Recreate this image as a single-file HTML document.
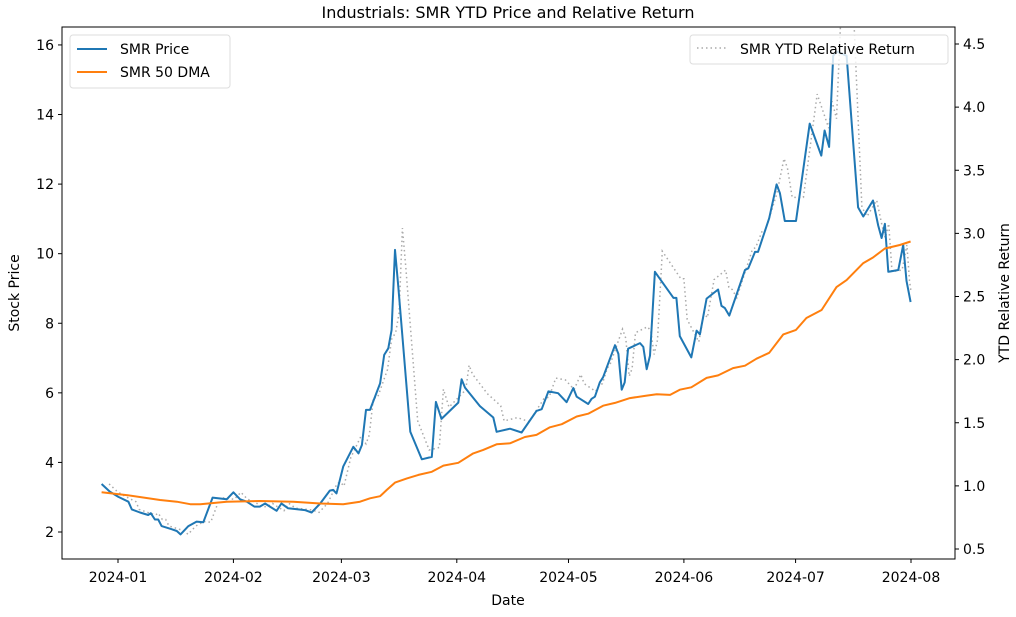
<!DOCTYPE html>
<html><head><meta charset="utf-8"><style>
body{margin:0;background:#fff;}
svg text{font-family:"DejaVu Sans","Liberation Sans",sans-serif;fill:#000;}
</style></head><body>
<svg id="c" width="1016" height="612" viewBox="0 0 1016 612" xmlns="http://www.w3.org/2000/svg">
<defs><clipPath id="pa"><rect x="62" y="27" width="893" height="532"/></clipPath></defs>
<text x="508" y="18" text-anchor="middle" font-size="16">Industrials: SMR YTD Price and Relative Return</text>
<g id="ticks"></g>
<g id="series" clip-path="url(#pa)"></g>
<rect x="62" y="27" width="893" height="532" fill="none" stroke="#000" stroke-width="1"/>
<text x="508" y="605" text-anchor="middle" font-size="14">Date</text>
<text transform="translate(19,293) rotate(-90)" text-anchor="middle" font-size="14">Stock Price</text>
<text transform="translate(1009,293) rotate(-90)" text-anchor="middle" font-size="14">YTD Relative Return</text>
<g>
<rect x="70" y="35" width="160" height="53" rx="3" fill="#fff" fill-opacity="0.8" stroke="#ddd"/>
<line x1="77" y1="49" x2="107" y2="49" stroke="#1f77b4" stroke-width="2"/>
<text x="120" y="54" font-size="14">SMR Price</text>
<line x1="77" y1="72" x2="107" y2="72" stroke="#ff7f0e" stroke-width="2"/>
<text x="120" y="77" font-size="14">SMR 50 DMA</text>
</g>
<g>
<rect x="690" y="35" width="258" height="29" rx="3" fill="#fff" fill-opacity="0.8" stroke="#ddd"/>
<line x1="697" y1="48" x2="727" y2="48" stroke="#aaa" stroke-width="1.5" stroke-dasharray="1.5,3"/>
<text x="740" y="54" font-size="14">SMR YTD Relative Return</text>
</g>
</svg>
<script>
// days since 2024-01-01
const priceDays=[-4.4,-2.2,0.1,2.8,3.7,5.9,8.1,8.8,9.9,10.8,11.7,14.4,15.8,16.8,18.9,21.1,22.9,25.4,29.2,31.0,32.8,34.6,36.6,38.1,39.5,40.8,42.6,43.9,45.7,50.2,52.0,54.3,56.9,57.8,58.7,60.5,63.2,64.6,65.5,66.6,67.7,70.4,71.5,72.6,73.5,74.4,75.3,78.5,81.6,84.3,85.4,86.9,91.4,92.3,93.2,97.2,100.8,101.7,105.3,108.4,112.4,113.8,115.6,118.2,120.5,122.3,123.2,126.3,127.2,128.1,129.4,130.3,133.5,134.4,135.3,136.1,137.0,140.2,141.1,142.0,142.9,144.2,149.2,150.0,150.9,154.0,155.4,156.3,158.1,161.2,162.1,163.0,164.2,168.4,169.3,171.1,171.9,174.9,176.9,177.8,179.1,182.1,185.8,188.9,189.8,191.0,192.1,193.0,195.7,198.8,200.2,202.8,204.2,205.1,206.0,206.9,209.6,210.9,211.8,212.9];
const priceValues=[3.38,3.16,3.01,2.87,2.65,2.56,2.49,2.54,2.36,2.36,2.17,2.08,2.03,1.93,2.17,2.30,2.28,2.99,2.94,3.14,2.94,2.87,2.73,2.73,2.82,2.73,2.61,2.82,2.68,2.63,2.56,2.82,3.19,3.21,3.11,3.88,4.45,4.26,4.50,5.51,5.51,6.27,7.09,7.28,7.81,10.11,9.05,4.88,4.09,4.16,5.74,5.25,5.72,6.39,6.15,5.62,5.29,4.88,4.97,4.86,5.48,5.53,6.04,5.99,5.73,6.14,5.89,5.68,5.83,5.89,6.30,6.45,7.37,7.12,6.09,6.30,7.27,7.43,7.32,6.68,7.07,9.48,8.73,8.73,7.63,7.02,7.79,7.68,8.71,8.97,8.50,8.44,8.22,9.53,9.58,10.05,10.05,11.02,11.99,11.74,10.94,10.94,13.74,12.82,13.54,13.07,15.69,15.81,15.69,11.33,11.07,11.53,10.81,10.45,10.86,9.48,9.53,10.25,9.22,8.61];
const relDays=[-2.4,-0.2,2.1,4.8,5.7,7.9,10.1,10.8,11.9,12.8,13.7,16.4,17.8,18.8,20.9,23.1,24.9,27.4,31.2,33.0,34.8,36.6,38.6,40.1,41.5,42.8,44.6,45.9,47.7,52.2,54.0,56.3,58.9,59.8,60.7,62.5,65.2,66.6,67.5,68.6,69.7,72.4,73.5,74.6,75.5,76.4,77.3,80.5,83.6,86.3,87.4,88.9,93.4,94.3,95.2,99.2,102.8,103.7,107.3,110.4,114.4,115.8,117.6,120.2,122.5,124.3,125.2,128.3,129.2,130.1,131.4,132.3,135.5,136.4,137.3,138.1,139.0,142.2,143.1,144.0,144.9,146.2,151.2,152.0,152.9,156.0,157.4,158.3,160.1,163.2,164.1,165.0,166.2,170.4,171.3,173.1,173.9,176.9,178.9,179.8,181.1,184.1,187.8,190.9,191.8,193.0,194.1,195.0,197.7,199.8,201.2,203.8,205.2,206.1,207.0,207.9,210.6,211.9,212.6,213.0];
const relValues=[1.016,0.955,0.914,0.875,0.814,0.790,0.770,0.784,0.734,0.734,0.682,0.657,0.643,0.616,0.682,0.718,0.712,0.908,0.894,0.949,0.894,0.875,0.836,0.836,0.861,0.836,0.803,0.861,0.823,0.809,0.790,0.861,1.021,1.027,0.998,1.222,1.389,1.333,1.403,1.699,1.699,1.921,2.161,2.216,2.370,3.042,2.733,1.515,1.284,1.304,1.766,1.623,1.760,1.956,1.886,1.731,1.634,1.515,1.541,1.509,1.690,1.704,1.854,1.839,1.763,1.883,1.810,1.748,1.792,1.810,1.929,1.973,2.242,2.169,1.868,1.929,2.213,2.260,2.228,2.041,2.155,2.859,2.640,2.640,2.318,2.140,2.365,2.333,2.634,2.709,2.572,2.555,2.490,2.873,2.888,3.025,3.025,3.308,3.592,3.519,3.285,3.285,4.103,3.834,4.045,3.908,4.672,4.708,4.672,3.207,3.135,3.262,3.063,2.964,3.077,2.697,2.710,2.909,2.625,2.540];
const dmaDays=[-4.4,2.3,11.3,15.8,19.4,22.1,29.2,38.1,47.1,54.3,60.5,65.0,67.7,70.4,72.2,74.4,77.6,80.7,84.3,87.4,91.4,95.4,98.1,101.7,105.3,109.3,112.4,116.0,119.2,123.2,126.3,130.3,133.5,137.5,142.0,144.7,148.3,150.9,154.0,158.1,161.2,165.2,168.4,171.5,174.9,178.7,182.1,184.9,189.0,193.0,195.7,200.2,202.8,206.0,210.0,212.9];
const dmaValues=[3.14,3.06,2.92,2.87,2.80,2.80,2.87,2.89,2.87,2.82,2.80,2.87,2.97,3.03,3.21,3.42,3.54,3.64,3.73,3.91,3.99,4.26,4.36,4.52,4.55,4.73,4.79,5.01,5.10,5.32,5.40,5.63,5.71,5.85,5.92,5.96,5.94,6.09,6.16,6.43,6.50,6.71,6.78,6.98,7.15,7.68,7.81,8.15,8.38,9.04,9.24,9.73,9.89,10.15,10.25,10.35];
const xTickLabels=["2024-01","2024-02","2024-03","2024-04","2024-05","2024-06","2024-07","2024-08"];
const xTickDays=[0,31,60,91,121,152,182,213];
const yLeftTicks=[2,4,6,8,10,12,14,16];
const yRightTicks=[0.5,1.0,1.5,2.0,2.5,3.0,3.5,4.0,4.5];

const X=d=>118+d*3.723;
const YL=v=>532-(v-2)*34.79;
const YR=r=>44+(4.5-r)*126.25;
const NS="http://www.w3.org/2000/svg";
function mk(tag,attrs,parent){const e=document.createElementNS(NS,tag);for(const k in attrs)e.setAttribute(k,attrs[k]);parent.appendChild(e);return e;}
const ticks=document.getElementById('ticks'), series=document.getElementById('series');
xTickDays.forEach((d,i)=>{
  const t=mk('line',{x1:X(d),x2:X(d),y1:559,y2:563,stroke:'#000'},ticks);
  
  
  const l=mk('text',{x:X(d),y:582,'text-anchor':'middle','font-size':14},ticks);l.textContent=xTickLabels[i];
  
  
});
yLeftTicks.forEach(v=>{
  const t=mk('line',{x1:58,x2:62,y1:YL(v),y2:YL(v),stroke:'#000'},ticks);
  
  
  const l=mk('text',{x:54,y:YL(v)+5,'text-anchor':'end','font-size':14},ticks);l.textContent=v;
  
  
});
yRightTicks.forEach(v=>{
  const t=mk('line',{x1:955,x2:959,y1:YR(v),y2:YR(v),stroke:'#000'},ticks);
  
  
  const l=mk('text',{x:963,y:YR(v)+5,'font-size':14},ticks);l.textContent=v.toFixed(1);
  
  
});
function pts(ds,vs,Y){return ds.map((d,i)=>X(d).toFixed(1)+','+Y(vs[i]).toFixed(1)).join(' ');}
const rel=mk('polyline',{points:pts(relDays,relValues,YR),fill:'none',stroke:'#aaa','stroke-width':1.5,'stroke-dasharray':'1.5,3'},series);


const pr=mk('polyline',{points:pts(priceDays,priceValues,YL),fill:'none',stroke:'#1f77b4','stroke-width':2,'stroke-linejoin':'round'},series);


const dm=mk('polyline',{points:pts(dmaDays,dmaValues,YL),fill:'none',stroke:'#ff7f0e','stroke-width':2,'stroke-linejoin':'round'},series);


</script>
</body></html>
